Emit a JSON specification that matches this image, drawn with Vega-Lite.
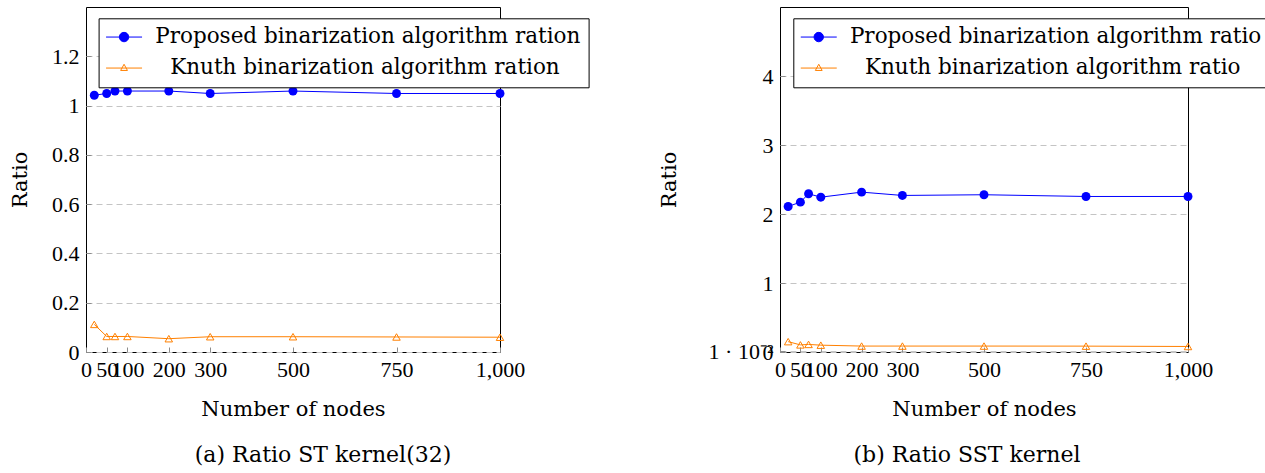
{
  "$schema": "https://vega.github.io/schema/vega-lite/v6.json",
  "padding": {"left": 9, "top": 6, "right": 0, "bottom": 0},
  "bounds": "flush",
  "spacing": 280,
  "background": "white",
  "config": {
    "font": "DejaVu Serif",
    "view": {"stroke": "#000000", "strokeWidth": 1},
    "axis": {
      "labelFont": "Liberation Serif", "labelFontSize": 22, "labelColor": "#000000",
      "titleFont": "DejaVu Serif", "titleFontSize": 21, "titleFontWeight": "normal", "titleColor": "#000000",
      "domain": false, "tickColor": "#8c8c8c", "tickSize": -5, "labelOverlap": false, "labelFlush": false
    },
    "legend": {"labelFont": "DejaVu Serif", "labelFontSize": 21.5, "labelColor": "#000000", "labelLimit": 1000},
    "title": {"font": "DejaVu Serif", "fontSize": 22, "fontWeight": "normal", "color": "#000000"}
  },
  "resolve": {"scale": {"x": "independent", "y": "independent", "color": "independent"}, "legend": {"color": "independent"}},
  "hconcat": [
    {
      "width": 414, "height": 345,
      "title": {"text": "(a) Ratio ST kernel(32)", "orient": "bottom", "dx": 30, "offset": 26},
      "data": {"values": [
        {"n": 20, "ratio": 1.042, "series": "Proposed binarization algorithm ration"},
        {"n": 50, "ratio": 1.049, "series": "Proposed binarization algorithm ration"},
        {"n": 70, "ratio": 1.059, "series": "Proposed binarization algorithm ration"},
        {"n": 100, "ratio": 1.059, "series": "Proposed binarization algorithm ration"},
        {"n": 200, "ratio": 1.059, "series": "Proposed binarization algorithm ration"},
        {"n": 300, "ratio": 1.049, "series": "Proposed binarization algorithm ration"},
        {"n": 500, "ratio": 1.059, "series": "Proposed binarization algorithm ration"},
        {"n": 750, "ratio": 1.049, "series": "Proposed binarization algorithm ration"},
        {"n": 1000, "ratio": 1.049, "series": "Proposed binarization algorithm ration"},
        {"n": 20, "ratio": 0.112, "series": "Knuth binarization algorithm ration"},
        {"n": 50, "ratio": 0.063, "series": "Knuth binarization algorithm ration"},
        {"n": 70, "ratio": 0.063, "series": "Knuth binarization algorithm ration"},
        {"n": 100, "ratio": 0.063, "series": "Knuth binarization algorithm ration"},
        {"n": 200, "ratio": 0.054, "series": "Knuth binarization algorithm ration"},
        {"n": 300, "ratio": 0.062, "series": "Knuth binarization algorithm ration"},
        {"n": 500, "ratio": 0.062, "series": "Knuth binarization algorithm ration"},
        {"n": 750, "ratio": 0.061, "series": "Knuth binarization algorithm ration"},
        {"n": 1000, "ratio": 0.06, "series": "Knuth binarization algorithm ration"}
      ]},
      "encoding": {
        "x": {"field": "n", "type": "quantitative", "scale": {"domain": [0, 1000], "nice": false, "zero": false},
          "axis": {"values": [0, 50, 100, 200, 300, 500, 750, 1000], "format": ",d", "grid": false, "title": "Number of nodes", "labelPadding": 12, "titlePadding": 18}},
        "y": {"field": "ratio", "type": "quantitative", "scale": {"domain": [0, 1.4], "nice": false, "zero": false},
          "axis": {"values": [0, 0.2, 0.4, 0.6, 0.8, 1, 1.2], "format": "~g", "grid": true, "gridDash": [6, 4], "gridColor": "#c4c4c4", "title": "Ratio", "labelPadding": 12, "titlePadding": 21}},
        "color": {"field": "series", "type": "nominal",
          "scale": {"domain": ["Proposed binarization algorithm ration", "Knuth binarization algorithm ration"], "range": ["#0000ff", "#ff8000"]},
          "legend": {"orient": "none", "legendX": 12.6, "legendY": 11.3, "title": null, "direction": "vertical", "padding": 8,
            "strokeColor": "#000000", "fillColor": "#ffffff", "symbolSize": 400, "symbolOffset": 6.7, "labelOffset": 20.4, "rowPadding": 8,
            "symbolStrokeWidth": 1,
            "encode": {
              "symbols": {"update": {
                "shape": {"signal": "indexof(datum.value, 'Knuth') >= 0 ? 'M-1.8,0H1.8M0,-0.38L0.34,0.24L-0.34,0.24Z' : 'M-1.8,0H-0.47A0.47,0.47 0 1,1 0.47,0A0.47,0.47 0 1,1 -0.47,0M0.47,0H1.8'"},
                "fill": {"signal": "indexof(datum.value, 'Knuth') >= 0 ? '#ffffff' : '#0000ff'"},
                "fillOpacity": {"signal": "indexof(datum.value, 'Knuth') >= 0 ? 0 : 1"},
                "stroke": {"signal": "indexof(datum.value, 'Knuth') >= 0 ? '#ff8000' : '#0000ff'"},
                "strokeWidth": {"value": 1}, "opacity": {"value": 1}}},
              "labels": {"update": {"dx": {"signal": "indexof(datum.value, 'Knuth') >= 0 ? 15 : 0"}}}
            }}}
      },
      "layer": [
        {"mark": {"type": "line", "strokeWidth": 1}},
        {"transform": [{"filter": "indexof(datum.series, 'Proposed') >= 0"}],
          "mark": {"type": "point", "shape": "circle", "filled": true, "size": 80, "opacity": 1}},
        {"transform": [{"filter": "indexof(datum.series, 'Knuth') >= 0"}],
          "mark": {"type": "point", "shape": "triangle-up", "filled": false, "size": 56, "strokeWidth": 1, "opacity": 1}}
      ]
    },
    {
      "width": 408, "height": 345,
      "title": {"text": "(b) Ratio SST kernel", "orient": "bottom", "dx": -17, "offset": 26},
      "data": {"values": [
        {"n": 20, "ratio": 2.109, "series": "Proposed binarization algorithm ratio"},
        {"n": 50, "ratio": 2.172, "series": "Proposed binarization algorithm ratio"},
        {"n": 70, "ratio": 2.293, "series": "Proposed binarization algorithm ratio"},
        {"n": 100, "ratio": 2.244, "series": "Proposed binarization algorithm ratio"},
        {"n": 200, "ratio": 2.317, "series": "Proposed binarization algorithm ratio"},
        {"n": 300, "ratio": 2.269, "series": "Proposed binarization algorithm ratio"},
        {"n": 500, "ratio": 2.279, "series": "Proposed binarization algorithm ratio"},
        {"n": 750, "ratio": 2.254, "series": "Proposed binarization algorithm ratio"},
        {"n": 1000, "ratio": 2.254, "series": "Proposed binarization algorithm ratio"},
        {"n": 20, "ratio": 0.15, "series": "Knuth binarization algorithm ratio"},
        {"n": 50, "ratio": 0.103, "series": "Knuth binarization algorithm ratio"},
        {"n": 70, "ratio": 0.11, "series": "Knuth binarization algorithm ratio"},
        {"n": 100, "ratio": 0.099, "series": "Knuth binarization algorithm ratio"},
        {"n": 200, "ratio": 0.086, "series": "Knuth binarization algorithm ratio"},
        {"n": 300, "ratio": 0.086, "series": "Knuth binarization algorithm ratio"},
        {"n": 500, "ratio": 0.086, "series": "Knuth binarization algorithm ratio"},
        {"n": 750, "ratio": 0.085, "series": "Knuth binarization algorithm ratio"},
        {"n": 1000, "ratio": 0.08, "series": "Knuth binarization algorithm ratio"}
      ]},
      "encoding": {
        "x": {"field": "n", "type": "quantitative", "scale": {"domain": [0, 1000], "nice": false, "zero": false},
          "axis": {"values": [0, 50, 100, 200, 300, 500, 750, 1000], "format": ",d", "grid": false, "title": "Number of nodes", "labelPadding": 12, "titlePadding": 18}},
        "y": {"field": "ratio", "type": "quantitative", "scale": {"domain": [0, 5], "nice": false, "zero": false},
          "axis": {"values": [0, 0.01, 1, 2, 3, 4], "labelExpr": "datum.value == 0.01 ? '1 · 10⁻²' : format(datum.value, '~g')", "grid": true, "gridDash": [6, 4], "gridColor": "#c4c4c4", "title": "Ratio", "labelPadding": 12, "titlePadding": 29}},
        "color": {"field": "series", "type": "nominal",
          "scale": {"domain": ["Proposed binarization algorithm ratio", "Knuth binarization algorithm ratio"], "range": ["#0000ff", "#ff8000"]},
          "legend": {"orient": "none", "legendX": 13.3, "legendY": 11.3, "title": null, "direction": "vertical", "padding": 8,
            "strokeColor": "#000000", "fillColor": "#ffffff", "symbolSize": 400, "symbolOffset": 6.7, "labelOffset": 20.4, "rowPadding": 8,
            "symbolStrokeWidth": 1,
            "encode": {
              "symbols": {"update": {
                "shape": {"signal": "indexof(datum.value, 'Knuth') >= 0 ? 'M-1.8,0H1.8M0,-0.38L0.34,0.24L-0.34,0.24Z' : 'M-1.8,0H-0.47A0.47,0.47 0 1,1 0.47,0A0.47,0.47 0 1,1 -0.47,0M0.47,0H1.8'"},
                "fill": {"signal": "indexof(datum.value, 'Knuth') >= 0 ? '#ffffff' : '#0000ff'"},
                "fillOpacity": {"signal": "indexof(datum.value, 'Knuth') >= 0 ? 0 : 1"},
                "stroke": {"signal": "indexof(datum.value, 'Knuth') >= 0 ? '#ff8000' : '#0000ff'"},
                "strokeWidth": {"value": 1}, "opacity": {"value": 1}}},
              "labels": {"update": {"dx": {"signal": "indexof(datum.value, 'Knuth') >= 0 ? 15 : 0"}}}
            }}}
      },
      "layer": [
        {"mark": {"type": "line", "strokeWidth": 1}},
        {"transform": [{"filter": "indexof(datum.series, 'Proposed') >= 0"}],
          "mark": {"type": "point", "shape": "circle", "filled": true, "size": 80, "opacity": 1}},
        {"transform": [{"filter": "indexof(datum.series, 'Knuth') >= 0"}],
          "mark": {"type": "point", "shape": "triangle-up", "filled": false, "size": 56, "strokeWidth": 1, "opacity": 1}}
      ]
    }
  ]
}
